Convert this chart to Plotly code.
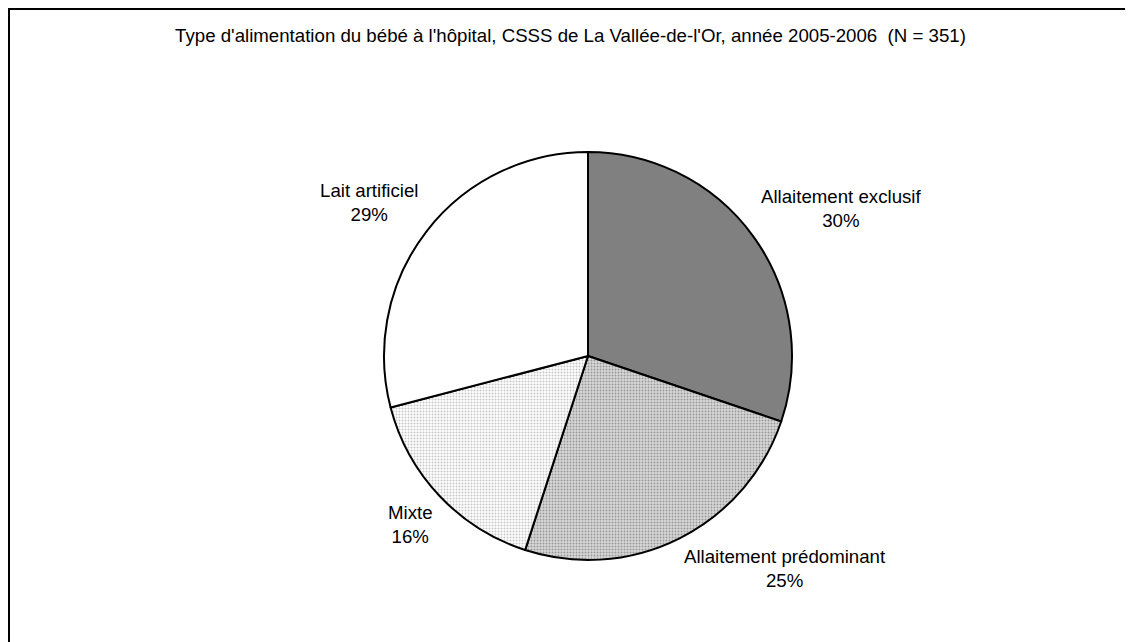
import math
import plotly.graph_objects as go

title_text = "Type d'alimentation du bébé à l'hôpital, CSSS de La Vallée-de-l'Or, année 2005-2006  (N = 351)"
categories = ["Allaitement exclusif", "Allaitement prédominant", "Mixte", "Lait artificiel"]
counts = [106, 87, 56, 102]

# page body has an 8px margin, so the figure fills the rest of the window
W, H = 1125, 634
FONT = "Liberation Sans, Arial, sans-serif"
FS = 18.67

# pie geometry (figure pixels)
CX, CY, R = 580, 348, 204
LABEL_GAP = 8

fig = go.Figure()
fig.add_trace(go.Pie(
    labels=categories,
    values=counts,
    sort=False,
    direction="clockwise",
    rotation=0,
    textinfo="none",
    marker=dict(
        colors=["#808080", "#c4c4c4", "#f0f0f0", "#ffffff"],
        line=dict(color="black", width=2),
        pattern=dict(
            shape=["", ".", ".", ""],
            fgcolor=["#808080", "#999999", "#c8c8c8", "#ffffff"],
            bgcolor=["#808080", "#d8d8d8", "#ffffff", "#ffffff"],
            size=3,
            solidity=0.35,
        ),
    ),
    domain=dict(x=[(CX - R) / W, (CX + R) / W], y=[1 - (CY + R) / H, 1 - (CY - R) / H]),
    showlegend=False,
    hoverinfo="label+percent",
))

# data labels placed just outside each slice, at its mid angle
total = sum(counts)
annotations = []
cum = 0
for lab, v in zip(categories, counts):
    mid = (cum + v / 2) / total * 2 * math.pi
    cum += v
    s, c = math.sin(mid), math.cos(mid)
    px = CX + (R + LABEL_GAP) * s
    py = CY - (R + LABEL_GAP) * c
    annotations.append(dict(
        x=px / W, y=1 - py / H, xref="paper", yref="paper",
        text=f"{lab}<br>{round(100 * v / total)}%",
        showarrow=False, align="center", borderpad=0,
        xanchor="left" if s > 0.1 else ("right" if s < -0.1 else "center"),
        yanchor="bottom" if c > 0 else "top",
        font=dict(family=FONT, size=FS, color="black"),
    ))

fig.update_layout(
    width=W, height=H,
    margin=dict(l=0, r=0, t=0, b=0),
    paper_bgcolor="white",
    plot_bgcolor="white",
    title=dict(text=title_text, x=0.5, xanchor="center", y=1 - 27.5 / H, yanchor="middle",
               font=dict(family=FONT, size=FS, color="black")),
    annotations=annotations,
    shapes=[dict(type="rect", xref="paper", yref="paper",
                 x0=1 / W, x1=1.05, y0=-0.05, y1=1 - 1 / H,
                 line=dict(color="black", width=2), fillcolor="rgba(0,0,0,0)")],
)

fig.write_html("out.html")
